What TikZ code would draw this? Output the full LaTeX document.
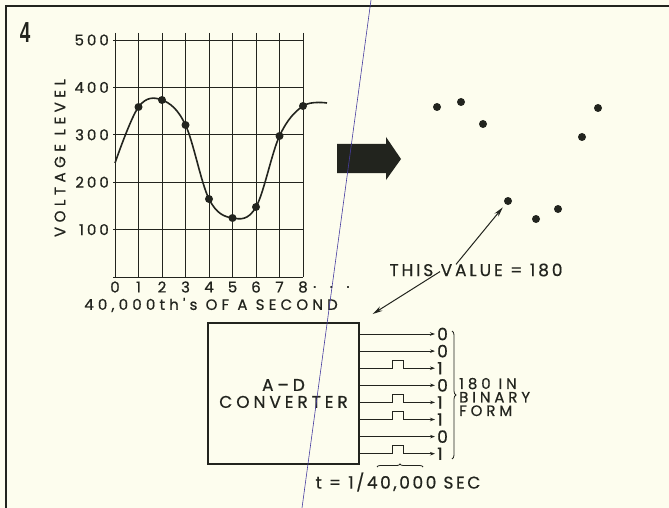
\documentclass[tikz,border=0pt]{standalone}
\usepackage{fontspec}
\setmainfont{Poppins}
\newfontfamily\dwg[FakeBold=0.6]{Poppins}
\newfontfamily\bignum[FakeStretch=0.65]{Liberation Sans}
\newcommand\lettering[3]{\dwg\fontsize{#1}{#2}\selectfont\addfontfeature{LetterSpace=#3}}
\usepackage{xcolor}
\definecolor{paper}{RGB}{253,253,238}
\definecolor{ink}{RGB}{34,36,30}
\definecolor{scanblue}{RGB}{70,60,160}
\usetikzlibrary{arrows.meta,positioning,calc,decorations.pathreplacing}

\begin{document}
\begin{tikzpicture}[x=1pt,y=-1pt,font=\lettering{15}{15}{20},text=ink]
  \tikzstyle{lbl}=[inner sep=0pt]
  \tikzstyle{gridline}=[draw=ink,line width=0.9pt]
  \tikzstyle{dot}=[circle,fill=ink,inner sep=0pt,minimum size=8pt]
  \tikzstyle{wire}=[draw=ink,line width=0.8pt,-{Stealth[length=5pt,width=3.5pt]},shorten >=2pt]
  \tikzstyle{pointer}=[draw=ink,line width=1pt,-{Stealth[length=10pt,width=5pt]}]
  \tikzstyle{bit}=[inner sep=0pt,anchor=west,font=\lettering{17}{17}{10}]
  \fill[paper] (0,0) rectangle (669,508);
  \useasboundingbox (0,0) rectangle (669,508);
  \draw[ink,line width=1.6pt] (6,508) -- (6,6) -- (669,6);
  \node[lbl] (fig) at (25,33) {\bignum\bfseries\fontsize{29}{29}\selectfont 4};

  \foreach \i in {0,...,8}
    \draw[gridline] (115+23.5*\i,33) -- (115+23.5*\i,277);
  \foreach \j in {0,...,5}
    \draw[gridline] (113,277-47.4*\j) -- (303,277-47.4*\j);
  \foreach \j in {1,...,5}
    \node[lbl,anchor=east] (v\j) at (109,277-47.4*\j) {\j00};
  \foreach \i in {0,...,8}
    \node[lbl] (x\i) at (115+23.5*\i,287) {\i};
  \node[lbl,right=5pt of x8,font=\lettering{15}{15}{90}] (more) {...};
  \node[lbl,font=\lettering{15}{15}{28}] (xtitle) at (211,305) {40,000th's OF A SECOND};
  \node[lbl,rotate=90,font=\lettering{15}{15}{30}] (ytitle) at (60,158) {VOLTAGE LEVEL};

  \draw[ink,line width=1.6pt] plot[smooth,tension=0.6] coordinates {(115,163) (138.5,107) (162,100) (185.5,125) (209,199) (232.5,218) (256,207) (279.5,136) (303,106) (327,103)};
  \foreach \i/\y in {1/107,2/100,3/125,4/199,5/218,6/207,7/136,8/106}
    \node[dot] (s\i) at (115+23.5*\i,\y) {};

  \fill[ink] (337,144) -- (386,144) -- (386,137) -- (401,159) -- (386,180) -- (386,173) -- (337,173) -- cycle;

  \foreach \i/\x/\y in {1/437/107,2/461/102,3/483/124,4/508/201,5/536/219,6/558/209,7/582/137,8/598/108}
    \node[dot] (d\i) at (\x,\y) {};

  \node[lbl,font=\lettering{17}{17}{17}] (val) at (476,270) {THIS VALUE = 180};
  \node[draw=ink,line width=2pt,minimum width=151pt,minimum height=141pt,align=center,
    font=\lettering{17}{17}{23}] (adc) at (283.5,393.5) {A–D\\CONVERTER};
  \draw[pointer,shorten >=4pt] ([xshift=-20pt,yshift=-1pt]val.north) -- (d4);
  \draw[pointer,shorten >=15pt] ([xshift=-36pt,yshift=5pt]val.south) -- (adc.north east);

  \foreach \k/\b in {1/0,2/0,3/1,4/0,5/1,6/1,7/0,8/1}{
    \node[bit] (b\k) at (437,334+17.1*\k-17.1) {\b};
    \ifnum\b=1
      \draw[wire] (adc.east |- b\k) -- ++(32,0) -- ++(0,-8) -- ++(11,0) -- ++(0,8) -- (b\k.west);
    \else
      \draw[wire] (adc.east |- b\k) -- (b\k.west);
    \fi
  }
  \draw[ink,line width=0.8pt,decorate,decoration={brace,amplitude=4pt}] (452,331) -- (452,459);
  \node[lbl,anchor=west,align=left,font=\lettering{15}{13.5}{26}] (form) at (459,397) {180 IN\\BINARY\\FORM};
  \draw[ink,line width=0.8pt,decorate,decoration={brace,amplitude=3pt}] (377,467) -- (423,467);
  \node[lbl,font=\lettering{17}{17}{15}] (tsec) at (398,482) {t = 1/40,000 SEC};

  \draw[scanblue,line width=0.6pt] (371,0) -- (302,508);
\end{tikzpicture}
\end{document}
